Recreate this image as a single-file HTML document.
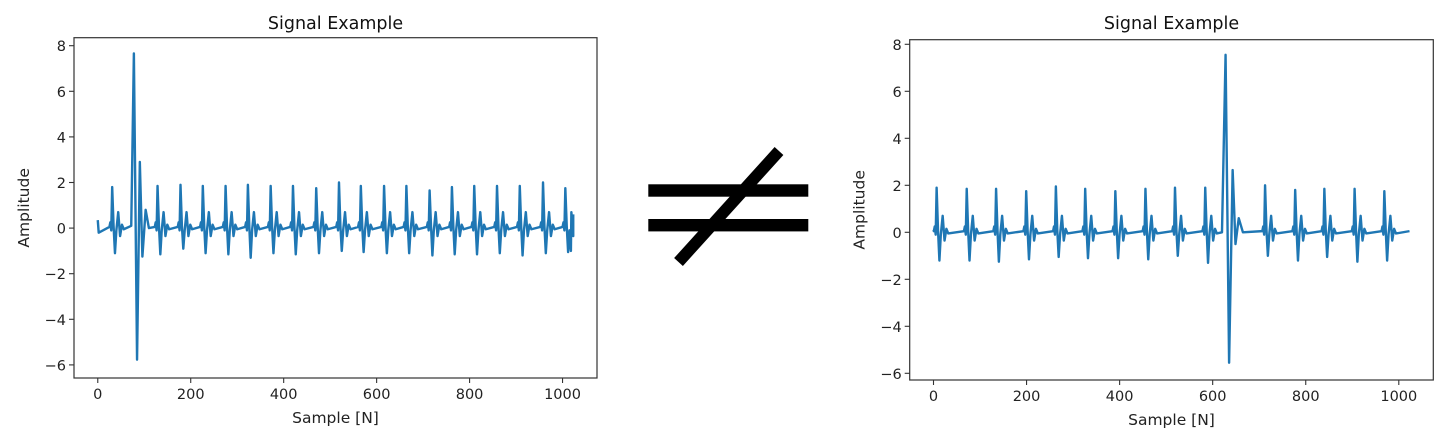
<!DOCTYPE html>
<html><head><meta charset="utf-8"><style>
html,body{margin:0;padding:0;background:#fff;}
svg{display:block;font-family:"DejaVu Sans","Liberation Sans",sans-serif;}
</style></head><body>
<svg id="root" width="1448" height="439" viewBox="0 0 1448 439" xmlns="http://www.w3.org/2000/svg">
<g>
<rect x="648.3" y="184.3" width="160" height="12.4" fill="#000"/>
<rect x="648.3" y="219" width="160" height="12.4" fill="#000"/>
<line x1="678.5" y1="262" x2="779" y2="151" stroke="#000" stroke-width="11.8"/>
</g>
</svg>
<script>
// ---- Left chart data ----
const leftBeatSamples = [31,128.6,178,226,275,323,372,420,470,519,566,616,664,714,762,810,859,908,958,1006];
const leftBeatPeaks   = [1.8,1.85,1.9,1.85,1.85,1.9,1.85,1.85,1.75,2.0,1.85,1.85,1.85,1.65,1.8,1.85,1.85,1.85,2.0,1.75];
const leftBeatTroughs = [-1.1,-1.15,-0.9,-1.1,-1.15,-1.3,-1.1,-1.15,-1.1,-1.0,-1.05,-1.1,-1.1,-1.2,-1.15,-1.15,-1.1,-1.2,-1.1,-1.05];
const leftEventSamples = [0,2,72,77.7,84.5,90.5,96,103,110,1018,1023];
const leftEventValues  = [0.35,-0.2,0.1,7.66,-5.77,2.9,-1.25,0.8,0.0,-1.0,0.6];
// ---- Right chart data ----
const rightBeatSamples = [6.7,71.4,134.5,199.2,263,326,390.8,455.5,519,584,712.6,777.3,840,905,968.9];
const rightBeatPeaks   = [1.9,1.85,1.85,1.75,1.95,1.85,1.75,1.85,1.9,1.9,2.0,1.8,1.85,1.85,1.75];
const rightBeatTroughs = [-1.2,-1.2,-1.25,-1.15,-1.05,-1.1,-1.1,-1.15,-1.0,-1.3,-1.0,-1.2,-1.05,-1.25,-1.2];
const rightEventSamples = [0,620,627.7,635.3,642.9,649,656,665,1023];
const rightEventValues  = [0.1,0.0,7.55,-5.55,2.65,-0.5,0.6,0.0,0.05];
// ---- Shared axis ticks ----
const xTickValues = [0,200,400,600,800,1000];
const yTickValues = [-6,-4,-2,0,2,4,6,8];

const NS = "http://www.w3.org/2000/svg";
const root = document.getElementById('root');
function mk(tag, attrs, parent){const e=document.createElementNS(NS,tag);for(const k in attrs)e.setAttribute(k,attrs[k]);(parent||root).appendChild(e);return e;}

function buildSignal(bs,bp,bt,es,ev){
  const pts=[];
  bs.forEach((p,i)=>{
    const h=bp[i],t=bt[i];
    pts.push([p-6,0.05],[p-4,0.25],[p-2,-0.1],[p,h],[p+3,0.1],[p+6,t],[p+9,-0.1],[p+13,0.7],[p+17,-0.35],[p+21,0.15],[p+25,-0.05]);
  });
  es.forEach((s,i)=>pts.push([s,ev[i]]));
  pts.sort((a,b)=>a[0]-b[0]);
  return pts.filter(q=>q[0]>=0&&q[0]<=1023);
}

function chart(name,ax,opts,signal){
  const g=mk('g',{});
  
  
  const sx=v=>opts.x0+(v-opts.xmin)*(opts.x1-opts.x0)/(opts.xmax-opts.xmin);
  const sy=v=>opts.yZero-v*opts.yUnit;
  const d=signal.map((p,i)=>(i?'L':'M')+sx(p[0]).toFixed(2)+' '+sy(p[1]).toFixed(2)).join(' ');
  const line=mk('path',{d:d,fill:'none',stroke:'#1f77b4','stroke-width':2.4,'stroke-linejoin':'round'},g);
  
  
  const frame=mk('rect',{x:opts.x0,y:opts.top,width:opts.x1-opts.x0,height:opts.bottom-opts.top,fill:'none',stroke:'#333','stroke-width':1.2},g);
  
  
  xTickValues.forEach(v=>{
    const x=sx(v);
    mk('line',{x1:x,x2:x,y1:opts.bottom,y2:opts.bottom+5,stroke:'#333','stroke-width':1.1},g);
    const t=mk('text',{x:x,y:opts.bottom+21,'font-size':14.5,'text-anchor':'middle',fill:'#222'},g);
    t.textContent=String(v);
    
    
  });
  yTickValues.forEach(v=>{
    const y=sy(v);
    mk('line',{x1:opts.x0-5,x2:opts.x0,y1:y,y2:y,stroke:'#333','stroke-width':1.1},g);
    const t=mk('text',{x:opts.x0-8,y:y+5.5,'font-size':14.5,'text-anchor':'end',fill:'#222'},g);
    t.textContent=(v<0?'\u2212'+(-v):String(v));
    
    
  });
  const cx=(opts.x0+opts.x1)/2;
  const title=mk('text',{x:cx,y:29,'font-size':17.5,'text-anchor':'middle',fill:'#111'},g);
  title.textContent='Signal Example';
  
  
  const xl=mk('text',{x:cx,y:opts.bottom+45,'font-size':15.5,'text-anchor':'middle',fill:'#222'},g);
  xl.textContent='Sample [N]';
  
  
  const my=(opts.top+opts.bottom)/2;
  const yl=mk('text',{x:0,y:0,'font-size':15.5,'text-anchor':'middle',fill:'#222',transform:'translate('+(opts.x0-45)+','+my+') rotate(-90)'},g);
  yl.textContent='Amplitude';
  
  
}

chart('left-signal-chart',0,{x0:74,x1:597,top:37.7,bottom:378,xmin:-51.15,xmax:1074.15,yZero:228.1,yUnit:22.8},
  buildSignal(leftBeatSamples,leftBeatPeaks,leftBeatTroughs,leftEventSamples,leftEventValues));
chart('right-signal-chart',1,{x0:909.7,x1:1433.3,top:39.7,bottom:380,xmin:-51.15,xmax:1074.15,yZero:232.3,yUnit:23.5},
  buildSignal(rightBeatSamples,rightBeatPeaks,rightBeatTroughs,rightEventSamples,rightEventValues));
</script>
</body></html>
